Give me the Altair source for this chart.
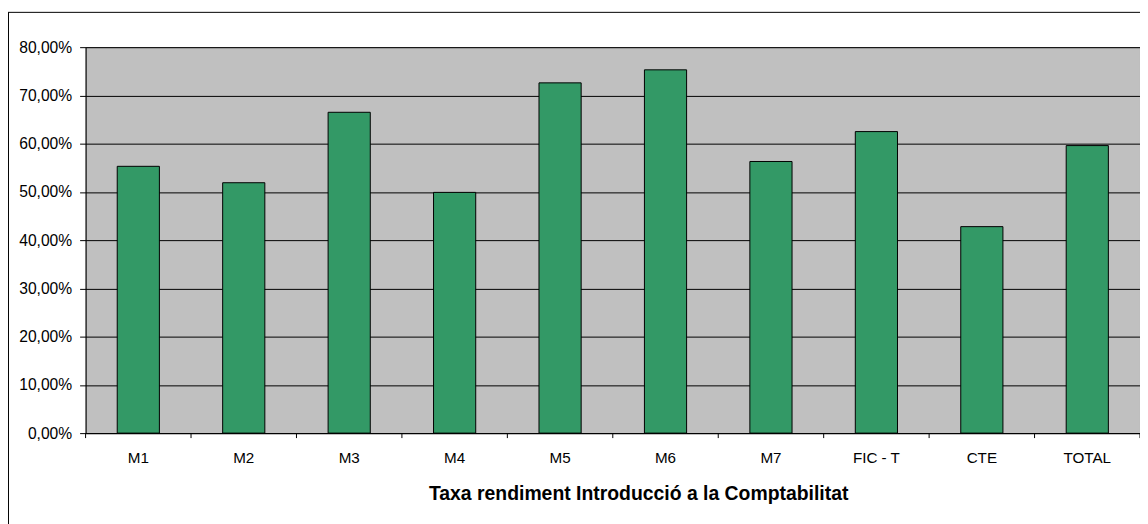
import altair as alt
import pandas as pd

categories = ["M1", "M2", "M3", "M4", "M5", "M6", "M7", "FIC - T", "CTE", "TOTAL"]
rates_pct = [55.3, 51.9, 66.5, 49.9, 72.6, 75.3, 56.3, 62.5, 42.8, 59.6]
y_tick_values = [0.0, 0.1, 0.2, 0.3, 0.4, 0.5, 0.6, 0.7, 0.8]
axis_title = "Taxa rendiment Introducció a la Comptabilitat"

df = pd.DataFrame({"cat": categories, "rate": [v / 100 for v in rates_pct]})
one = pd.DataFrame({"k": [0]})

W, H = 1060, 388
FONT = "Liberation Sans"

xscale = alt.Scale(paddingInner=0, paddingOuter=0)

bars = alt.Chart(df).mark_bar(
    width=alt.RelativeBandSize(0.4), fill="#339966", stroke="black", strokeWidth=1
).encode(
    x=alt.X(
        "cat:N",
        sort=categories,
        scale=xscale,
        axis=alt.Axis(
            title=axis_title,
            ticks=False,
            labelAngle=0,
            labelPadding=18,
            labelOverlap=False,
            labelFontSize=15.3,
            titleFont=FONT,
            titleFontSize=19.5,
            titleFontWeight="bold",
            titleColor="black",
            titleX=555.5,
            titleY=67,
            titleAlign="center",
            titleBaseline="alphabetic",
        ),
    ),
    y=alt.Y(
        "rate:Q",
        scale=alt.Scale(domain=[0, 0.8], nice=False, zero=True),
        axis=alt.Axis(
            values=y_tick_values,
            labelExpr="replace(format(datum.value, '.2%'), '.', ',')",
            title=None,
            grid=True,
            tickSize=6,
            labelPadding=8,
            labelFontSize=15.7,
        ),
    ),
)

cat_ticks = alt.Chart(df).mark_rule(color="black", strokeWidth=1).encode(
    x=alt.X("cat:N", sort=categories, bandPosition=0, scale=xscale),
    y=alt.value(H),
    y2=alt.value(H + 5),
)

left_frame = alt.Chart(one).mark_rule(color="black", strokeWidth=1).encode(
    x=alt.value(-77.5), y=alt.value(-35), y2=alt.value(520)
)
top_frame = alt.Chart(one).mark_rule(color="black", strokeWidth=1).encode(
    x=alt.value(-79), x2=alt.value(W + 20), y=alt.value(-35)
)
end_tick = alt.Chart(one).mark_rule(color="black", strokeWidth=1).encode(
    x=alt.value(W), y=alt.value(H), y2=alt.value(H + 5)
)

chart = (
    alt.layer(bars, cat_ticks, left_frame, top_frame, end_tick)
    .properties(
        width=W,
        height=H,
        autosize=alt.AutoSizeParams(type="none"),
        padding={"left": 78, "top": 38, "right": 0, "bottom": 90},
        background="white",
    )
    .configure_view(fill="#C0C0C0", stroke="#808080", strokeWidth=1)
    .configure_axis(
        domainColor="black",
        tickColor="black",
        gridColor="black",
        gridOpacity=1,
        labelFont=FONT,
        labelColor="black",
    )
)

chart.save("out.html", embed_options={"renderer": "svg", "actions": False})
